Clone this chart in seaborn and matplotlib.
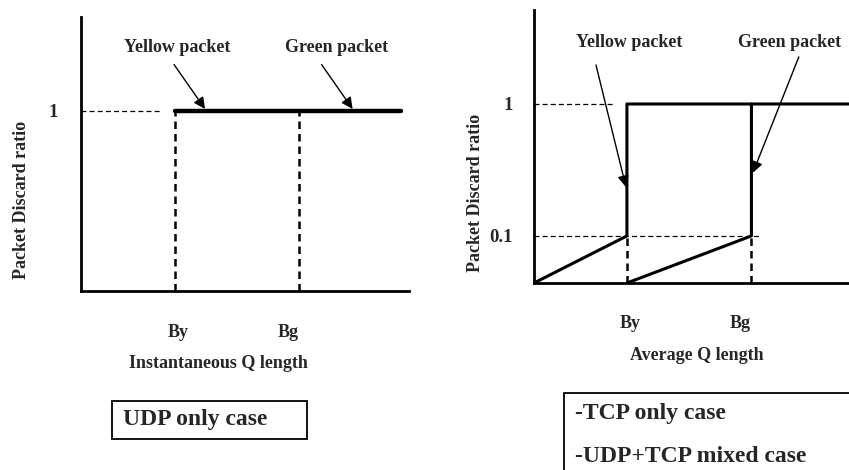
import numpy as np
import pandas as pd
import matplotlib
matplotlib.use("Agg")
import matplotlib.pyplot as plt
from matplotlib.patches import Rectangle
import seaborn as sns

sns.set_theme(style="white")
plt.rcParams['font.family'] = ['Liberation Serif', 'DejaVu Serif']
plt.rcParams['font.weight'] = 'bold'

# ---------------- data ----------------
x_ticklabels = ["By", "Bg"]
By_left, Bg_left = 1.0, 2.32
By_right, Bg_right = 1.0, 2.34
x_end_left = 3.40
x_end_right = 3.39

# UDP only case: instantaneous Q length
udp_x = [By_left, x_end_left]
udp_y = [1, 1]

# TCP / mixed case: average Q length (yellow and green curves)
yellow_x = [0, By_right, By_right, x_end_right]
yellow_y = [0, 0.1, 1, 1]
green_x = [By_right, Bg_right, Bg_right]
green_y = [0, 0.1, 1]

left_yticks = [1]
left_yticklabels = ["1"]
right_yticks = [0.1, 1]
right_yticklabels = ["0.1", "1"]

# piecewise display scale for the right panel (0 / 0.1 / 1 levels)
scale_vals = [0, 0.1, 1, 2]
scale_pos = [0, 0.263, 1, 1.819]

def fwd(v):
    return np.interp(v, scale_vals, scale_pos)

def inv(p):
    return np.interp(p, scale_pos, scale_vals)

W, H = 849, 470
fig = plt.figure(figsize=(W / 100, H / 100), dpi=100)

def frac_axes(l, t, r, b):
    return fig.add_axes([l / W, (H - b) / H, (r - l) / W, (b - t) / H])

axL = frac_axes(81, 17, 409, 291)
axR = frac_axes(534, 10, 849, 283)

FS = 13

for ax in (axL, axR):
    ax.set_facecolor("none")
    sns.despine(ax=ax)
    for s in ("left", "bottom"):
        ax.spines[s].set_color("black")
        ax.spines[s].set_linewidth(2)
    ax.tick_params(axis="both", length=0)

# ---------- left panel ----------
sns.lineplot(x=udp_x, y=udp_y, ax=axL, color="black", lw=3.2,
             estimator=None, sort=False)
axL.plot([0, 0.84], [1, 1], color="black", lw=0.9, ls=(0, (4, 2.5)))
for xv in (By_left, Bg_left):
    axL.plot([xv, xv], [0, 1], color="black", lw=1.8, ls=(0, (3, 2)))
axL.set_xlim(0, 3.49)
axL.set_ylim(0, 1.52)
axL.set_yticks(left_yticks, left_yticklabels, fontsize=13.5, fontweight="bold")
axL.tick_params(axis="y", pad=17)
axL.set_xticks([1.03, 2.20], x_ticklabels, fontsize=FS, fontweight="bold")
axL.tick_params(axis="x", pad=24)
axL.set_xlabel("Instantaneous Q length", fontsize=FS, fontweight="bold")
axL.xaxis.set_label_coords(0.42, -0.232)
axL.set_ylabel("Packet Discard ratio", fontsize=FS, fontweight="bold")
axL.yaxis.set_label_coords(-0.155, 0.332)

axL.text(1.02, 1.35, "Yellow packet", ha="center", va="center", fontsize=FS, fontweight="bold")
axL.text(2.72, 1.35, "Green packet", ha="center", va="center", fontsize=FS, fontweight="bold")
arrow = dict(arrowstyle="-|>", color="black", lw=1.0, mutation_scale=17, shrinkA=0, shrinkB=0)
axL.annotate("", xy=(1.32, 1.01), xytext=(0.99, 1.256), arrowprops=arrow)
axL.annotate("", xy=(2.89, 1.01), xytext=(2.56, 1.256), arrowprops=arrow)

# ---------- right panel ----------
axR.set_yscale("function", functions=(fwd, inv))
sns.lineplot(x=yellow_x, y=yellow_y, ax=axR, color="black", lw=2.2,
             estimator=None, sort=False)
sns.lineplot(x=green_x, y=green_y, ax=axR, color="black", lw=2.2,
             estimator=None, sort=False)
axR.plot([0, 0.85], [1, 1], color="black", lw=0.9, ls=(0, (4, 2.5)))
axR.plot([0, 2.43], [0.1, 0.1], color="black", lw=0.9, ls=(0, (4, 2.5)))
for xv in (By_right, Bg_right):
    axR.plot([xv, xv], [0, 0.1], color="black", lw=1.8, ls=(0, (3, 2)))
axR.set_xlim(0, 3.39)
axR.set_ylim(0, inv(1.525))
axR.set_yticks(right_yticks, right_yticklabels, fontsize=13.5, fontweight="bold")
axR.tick_params(axis="y", pad=15)
axR.set_xticks([1.04, 2.22], x_ticklabels, fontsize=FS, fontweight="bold")
axR.tick_params(axis="x", pad=23)
axR.set_xlabel("Average Q length", fontsize=FS, fontweight="bold")
axR.xaxis.set_label_coords(0.517, -0.236)
axR.set_ylabel("Packet Discard ratio", fontsize=FS, fontweight="bold")
axR.yaxis.set_label_coords(-0.158, 0.33)

axR.text(1.02, inv(1.346), "Yellow packet", ha="center", va="center", fontsize=FS, fontweight="bold")
axR.text(2.75, inv(1.346), "Green packet", ha="center", va="center", fontsize=FS, fontweight="bold")
axR.annotate("", xy=(0.99, 0.433), xytext=(0.667, 1.266), arrowprops=arrow)
axR.annotate("", xy=(2.355, 0.530), xytext=(2.85, 1.321), arrowprops=arrow)

# ---------- boxes ----------
def fig_rect(l, t, r, b):
    return Rectangle((l / W, (H - b) / H), (r - l) / W, (b - t) / H,
                     transform=fig.transFigure, fill=False, ec="black", lw=1.3)

fig.patches.append(fig_rect(112, 401, 307, 439))
fig.patches.append(fig_rect(564, 393, 900, 500))
BFS = 17
fig.text(123 / W, (H - 420) / H, "UDP only case", fontsize=BFS, fontweight="bold",
         ha="left", va="center")
fig.text(575 / W, (H - 414) / H, "-TCP only case", fontsize=BFS, fontweight="bold",
         ha="left", va="center")
fig.text(575 / W, (H - 456) / H, "-UDP+TCP mixed case", fontsize=BFS, fontweight="bold",
         ha="left", va="center")

fig.savefig("out.png", dpi=100, facecolor="white")
